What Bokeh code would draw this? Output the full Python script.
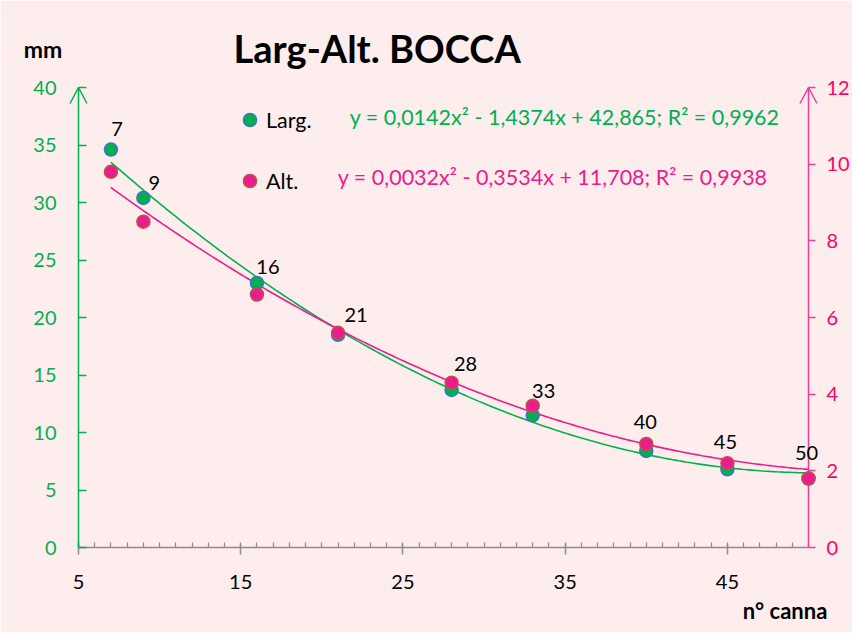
import numpy as np
from bokeh.plotting import figure
from bokeh.models import Range1d, LinearAxis, FixedTicker, ColumnDataSource, Legend, LegendItem
from bokeh.embed import file_html
from bokeh.resources import INLINE
from bokeh.core.properties import value

# ---- data ----
canna = [7, 9, 16, 21, 28, 33, 40, 45, 50]
larg = [34.6, 30.4, 23.0, 18.5, 13.7, 11.5, 8.4, 6.8, 6.0]
alt = [9.8, 8.5, 6.6, 5.6, 4.3, 3.7, 2.7, 2.2, 1.8]
point_labels = [str(c) for c in canna]
larg_coef = [0.0142, -1.4374, 42.865]
alt_coef = [0.0032, -0.3534, 11.708]
larg_eq = "y = 0,0142x² - 1,4374x + 42,865; R² = 0,9962"
alt_eq = "y = 0,0032x² - 0,3534x + 11,708; R² = 0,9938"
x_ticks = [5, 15, 25, 35, 45]
x_minor = list(range(5, 51))
left_ticks = [0, 5, 10, 15, 20, 25, 30, 35, 40]
right_ticks = [0, 2, 4, 6, 8, 10, 12]
title_text = "Larg-Alt. BOCCA"
y_title = "mm"
x_title = "n° canna"

# ---- styles / layout (pixels) ----
lab_dx = [6, 11, 11, 18, 14, 11, -1, -2, -2]
lab_dy = [-21, -15, -16, -20, -26, -24, -29, -27, -26]

GREEN = "#00B050"
PINK = "#E91E8C"
PINK_AX = "#E8409A"
PINK_TXT = "#FF0066"
PINK_EQ = "#EC1C8C"
BG = "#FDEDED"
FONT = "Lato"

W, H = 852, 632
BL, BR, BT, BB = 78, 42, 87, 85
FW, FH = W - BL - BR, H - BT - BB

p = figure(width=W, height=H, output_backend="svg", toolbar_location=None,
           x_range=Range1d(5, 50), y_range=Range1d(0, 40),
           min_border_left=BL, min_border_right=BR, min_border_top=BT, min_border_bottom=BB,
           background_fill_color=BG, border_fill_color=BG, outline_line_color=None)
p.extra_y_ranges = {"right": Range1d(0, 12), "py": Range1d(0, FH)}
p.extra_x_ranges = {"px": Range1d(0, FW)}
p.grid.visible = False

# x axis
xa = p.xaxis[0]
xa.ticker = FixedTicker(ticks=x_ticks, minor_ticks=x_minor)
xa.axis_line_color = "#8C8C8C"
xa.axis_line_width = 1.5
xa.major_tick_line_color = "#8C8C8C"
xa.minor_tick_line_color = "#8C8C8C"
xa.major_tick_line_width = 1.5
xa.minor_tick_line_width = 1.2
xa.major_tick_in = 4
xa.major_tick_out = 7
xa.minor_tick_in = 5
xa.minor_tick_out = 0
xa.major_label_text_font = FONT
xa.major_label_text_font_size = "20px"
xa.major_label_text_color = "black"
xa.major_label_standoff = 20

# left axis
ya = p.yaxis[0]
ya.ticker = FixedTicker(ticks=left_ticks, minor_ticks=[])
ya.axis_line_color = GREEN
ya.axis_line_width = 1.5
ya.major_tick_line_color = GREEN
ya.major_tick_line_width = 1.5
ya.major_tick_in = 8
ya.major_tick_out = 0
ya.minor_tick_line_color = None
ya.major_label_text_font = FONT
ya.major_label_text_font_size = "20px"
ya.major_label_text_color = GREEN
ya.major_label_standoff = 22

# right axis
ra = LinearAxis(y_range_name="right", ticker=FixedTicker(ticks=right_ticks, minor_ticks=[]))
ra.axis_line_color = PINK_AX
ra.axis_line_width = 1.5
ra.major_tick_line_color = PINK_AX
ra.major_tick_line_width = 1.5
ra.major_tick_in = 0
ra.major_tick_out = 7
ra.minor_tick_line_color = None
ra.major_label_text_font = FONT
ra.major_label_text_font_size = "20px"
ra.major_label_text_color = PINK_TXT
ra.major_label_standoff = 11
p.add_layout(ra, "right")

# axis arrow heads (open)
p.line([-8.5, 0, 8.5], [FH - 16, FH, FH - 16], x_range_name="px", y_range_name="py",
       line_color=GREEN, line_width=1.5, level="overlay")
p.line([FW - 8.5, FW, FW + 8.5], [FH - 16, FH, FH - 16], x_range_name="px", y_range_name="py",
       line_color=PINK_AX, line_width=1.5, level="overlay")

# trend lines
xs = np.linspace(min(canna), max(canna), 200)
p.line(xs, np.polyval(larg_coef, xs), line_color=GREEN, line_width=1.6)
p.line(xs, np.polyval(alt_coef, xs), line_color=PINK, line_width=1.6, y_range_name="right")

# points
src = ColumnDataSource(dict(x=canna, larg=larg, alt=alt, lab=point_labels, dx=lab_dx, dy=lab_dy))
r_larg = p.scatter("x", "larg", source=src, size=13, fill_color=GREEN, line_color="#4472C4",
                   line_width=1.5, level="overlay")
r_alt = p.scatter("x", "alt", source=src, size=13, fill_color=PINK, line_color="#C0504D",
                  line_width=1.5, y_range_name="right", level="overlay")

# point labels
p.text(x="x", y="larg", text="lab", source=src, x_offset="dx", y_offset="dy",
       text_align="center", text_baseline="alphabetic", text_font=value(FONT),
       text_font_size="20px", text_color="black", level="overlay")

# legend
leg = Legend(items=[LegendItem(label="Larg.", renderers=[r_larg]),
                    LegendItem(label="Alt.", renderers=[r_alt])],
             location=(155, 350), orientation="vertical",
             glyph_width=33, glyph_height=33, label_standoff=0, spacing=28,
             padding=0, margin=0, border_line_color=None, background_fill_alpha=0,
             label_text_font=FONT, label_text_font_size="21.5px", label_text_color="black")
p.add_layout(leg)

# texts (positions in pixels relative to the plot frame)
def ptext(x, y, txt, size, color, bold=False, align="left"):
    p.text(x=[x], y=[y], text=[txt], x_range_name="px", y_range_name="py",
           text_align=align, text_baseline="alphabetic", text_font=value(FONT),
           text_font_style="bold" if bold else "normal", text_font_size=size,
           text_color=color, level="overlay")

ptext(299.5, 499.5, title_text, "38px", "black", bold=True, align="center")
ptext(-55, 499, y_title, "23px", "black", bold=True)
ptext(666, -62.5, x_title, "22px", "black", bold=True)
ptext(272, 431, larg_eq, "21.5px", GREEN)
ptext(260, 370.5, alt_eq, "21.5px", PINK_EQ)

open("out.html", "w").write(file_html(p, INLINE))
